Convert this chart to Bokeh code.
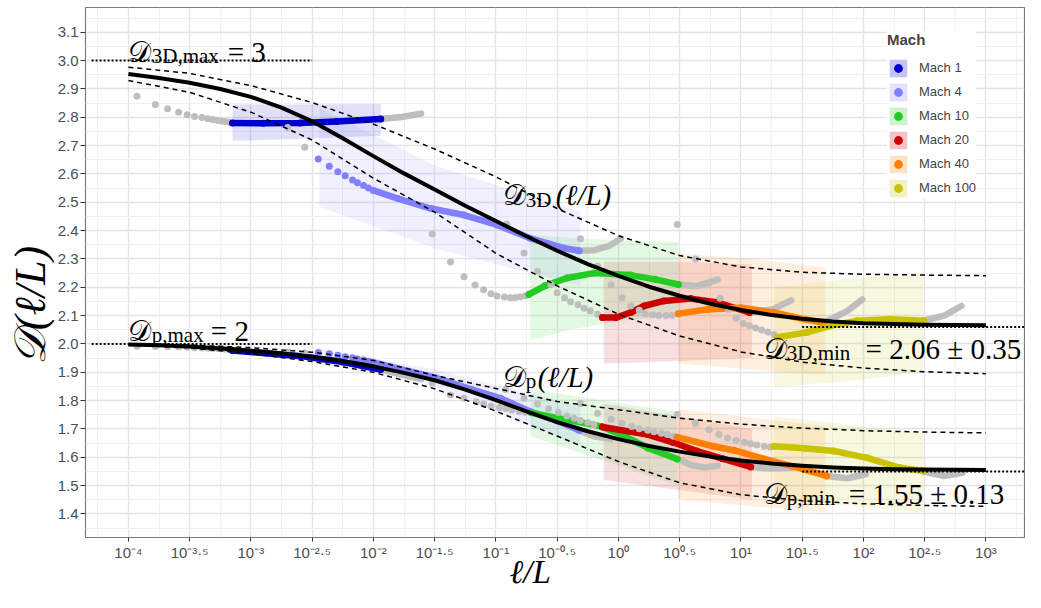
from bokeh.plotting import figure
from bokeh.models import FixedTicker, Legend, LegendItem, Range1d, PrintfTickFormatter
from bokeh.embed import file_html
from bokeh.resources import INLINE
from bokeh.core.properties import value

# ---------------- data (x = log10(l/L), y = D) ----------------
fit_x = [-4.0, -3.75, -3.5, -3.25, -3.0, -2.75, -2.5, -2.25, -2.0, -1.75, -1.5, -1.25, -1.0, -0.75,
         -0.5, -0.25, 0.0, 0.25, 0.5, 0.75, 1.0, 1.25, 1.5, 1.75, 2.0, 2.25, 2.5, 2.75, 3.0]
fit_3d = [2.953, 2.939, 2.922, 2.900, 2.872, 2.834, 2.786, 2.726, 2.663, 2.602, 2.545, 2.488, 2.434, 2.380,
          2.329, 2.282, 2.240, 2.202, 2.170, 2.142, 2.120, 2.102, 2.089, 2.079, 2.073, 2.070, 2.068, 2.067, 2.066]
fit_p = [1.998, 1.995, 1.991, 1.984, 1.976, 1.967, 1.955, 1.940, 1.921, 1.898, 1.872, 1.839, 1.802, 1.762,
         1.724, 1.692, 1.664, 1.640, 1.620, 1.603, 1.589, 1.578, 1.570, 1.564, 1.560, 1.558, 1.557, 1.556, 1.555]

band_x = [-4.0, -3.5, -3.0, -2.5, -2.0, -1.5, -1.0, -0.5, 0.0, 0.5, 1.0, 1.5, 2.0, 2.5, 3.0]
band_3d_hi = [2.977, 2.955, 2.912, 2.852, 2.776, 2.688, 2.590, 2.478, 2.382, 2.312, 2.272, 2.253, 2.246, 2.243, 2.241]
band_3d_lo = [2.930, 2.888, 2.818, 2.720, 2.585, 2.465, 2.320, 2.205, 2.105, 2.028, 1.972, 1.936, 1.915, 1.902, 1.895]
band_p_hi = [2.000, 1.996, 1.987, 1.971, 1.942, 1.889, 1.843, 1.797, 1.768, 1.738, 1.717, 1.703, 1.694, 1.689, 1.686]
band_p_lo = [1.996, 1.986, 1.966, 1.938, 1.900, 1.842, 1.763, 1.675, 1.585, 1.510, 1.468, 1.447, 1.436, 1.430, 1.427]

D3D_MAX, DP_MAX, D3D_MIN, DP_MIN = 3.0, 2.0, 2.06, 1.55

mach_names = ["Mach 1", "Mach 4", "Mach 10", "Mach 20", "Mach 40", "Mach 100"]
mach_colors = ["#0000CC", "#8080FF", "#22CC22", "#CC0000", "#FF7F00", "#C9C300"]

# Mach 1
m1_3d_dots = [(-3.93, 2.874), (-3.78, 2.845), (-3.68, 2.830), (-3.59, 2.818), (-3.52, 2.809), (-3.46, 2.803),
              (-3.40, 2.799), (-3.35, 2.795), (-3.31, 2.792), (-3.27, 2.789), (-3.24, 2.787), (-3.21, 2.785), (-3.18, 2.783)]
m1_3d_line = [(-3.15, 2.780), (-2.9, 2.779), (-2.6, 2.780), (-2.3, 2.785), (-1.94, 2.794)]
m1_3d_tail = [(-1.94, 2.794), (-1.77, 2.801), (-1.61, 2.813)]
m1_3d_rib = [(-3.15, 2.717, 2.845), (-2.5, 2.725, 2.845), (-1.94, 2.735, 2.848)]
m1_p_dots = [(-3.93, 1.992), (-3.78, 1.991), (-3.68, 1.990), (-3.59, 1.989), (-3.52, 1.988), (-3.46, 1.987),
             (-3.40, 1.986), (-3.35, 1.985), (-3.31, 1.984), (-3.27, 1.984), (-3.24, 1.983), (-3.21, 1.982), (-3.18, 1.982)]
m1_p_line = [(-3.15, 1.977), (-2.59, 1.957), (-2.25, 1.936), (-1.94, 1.910)]
m1_p_tail = [(-1.94, 1.910), (-1.78, 1.893), (-1.61, 1.876)]
m1_p_rib = [(-3.15, 1.970, 1.985), (-2.5, 1.948, 1.965), (-1.94, 1.900, 1.918)]

# Mach 4
m4_3d_dots = [(-2.70, 2.764), (-2.56, 2.694)]
m4_3d_cdots = [(-2.45, 2.653), (-2.36, 2.627), (-2.29, 2.608), (-2.23, 2.594), (-2.17, 2.579), (-2.13, 2.569),
               (-2.08, 2.559), (-2.04, 2.550)]
m4_3d_line = [(-2.0, 2.542), (-1.80, 2.513), (-1.53, 2.478), (-1.26, 2.455), (-0.99, 2.420), (-0.72, 2.373),
              (-0.44, 2.338), (-0.32, 2.329)]
m4_3d_tail = [(-0.32, 2.329), (-0.2, 2.331), (-0.08, 2.345), (0.02, 2.372)]
m4_3d_rib = [(-2.44, 2.484, 2.834), (-1.5, 2.338, 2.630), (-0.31, 2.205, 2.466)]
m4_p_dots = [(-2.70, 1.972), (-2.56, 1.968)]
m4_p_cdots = [(-2.45, 1.970), (-2.36, 1.965), (-2.29, 1.960), (-2.23, 1.955), (-2.17, 1.951), (-2.13, 1.947),
              (-2.08, 1.943), (-2.04, 1.939)]
m4_p_line = [(-2.0, 1.935), (-1.5, 1.882), (-1.2, 1.840), (-0.96, 1.808), (-0.71, 1.760), (-0.5, 1.728), (-0.32, 1.695)]
m4_p_tail = [(-0.32, 1.695), (-0.2, 1.674), (-0.06, 1.665)]
m4_p_rib = [(-2.44, 1.955, 1.985), (-1.5, 1.850, 1.910), (-0.31, 1.640, 1.780)]

# Mach 10
m10_3d_dots = [(-1.52, 2.388), (-1.37, 2.289), (-1.26, 2.237), (-1.17, 2.208), (-1.10, 2.191), (-1.04, 2.177),
               (-0.99, 2.169), (-0.93, 2.166), (-0.88, 2.163), (-0.84, 2.164), (-0.80, 2.167), (-0.76, 2.170)]
m10_3d_line = [(-0.73, 2.175), (-0.6, 2.205), (-0.42, 2.233), (-0.2, 2.250), (0.1, 2.243), (0.3, 2.228), (0.49, 2.210)]
m10_3d_tail = [(0.49, 2.210), (0.64, 2.204), (0.81, 2.227)]
m10_3d_rib = [(-0.72, 2.012, 2.385), (-0.4, 2.050, 2.375), (0.0, 2.080, 2.365), (0.49, 2.100, 2.360)]
m10_p_dots = [(-1.52, 1.862), (-1.37, 1.820), (-1.26, 1.808), (-1.16, 1.796), (-1.10, 1.788), (-1.04, 1.781),
              (-0.97, 1.776), (-0.92, 1.772), (-0.87, 1.767), (-0.81, 1.762), (-0.76, 1.759)]
m10_p_line = [(-0.71, 1.757), (-0.44, 1.734), (-0.14, 1.709), (0.05, 1.675), (0.24, 1.633), (0.48, 1.594)]
m10_p_tail = [(0.48, 1.594), (0.60, 1.572), (0.70, 1.564), (0.81, 1.570)]
m10_p_rib = [(-0.72, 1.675, 1.840), (0.48, 1.500, 1.760)]

# Mach 20
m20_3d_dots = [(-0.91, 2.423), (-0.77, 2.321), (-0.66, 2.257), (-0.55, 2.210), (-0.50, 2.181), (-0.44, 2.163),
               (-0.39, 2.149), (-0.33, 2.138), (-0.28, 2.126), (-0.23, 2.117), (-0.17, 2.105)]
m20_3d_line = [(-0.13, 2.093), (-0.02, 2.093), (0.10, 2.111), (0.21, 2.134), (0.37, 2.152), (0.59, 2.160),
               (0.81, 2.146), (1.07, 2.111)]
m20_3d_tail = [(1.07, 2.111), (1.26, 2.122), (1.41, 2.154)]
m20_3d_rib = [(-0.12, 1.930, 2.290), (0.5, 1.940, 2.290), (1.09, 1.950, 2.280)]
m20_p_dots = [(-0.92, 1.839), (-0.77, 1.808), (-0.66, 1.788), (-0.57, 1.771), (-0.49, 1.758), (-0.42, 1.746),
              (-0.36, 1.738), (-0.31, 1.730), (-0.25, 1.723), (-0.20, 1.715)]
m20_p_line = [(-0.13, 1.707), (0.24, 1.680), (0.45, 1.652), (0.64, 1.622), (0.85, 1.595), (1.08, 1.566)]
m20_p_tail = [(1.08, 1.566), (1.24, 1.560), (1.41, 1.563)]
m20_p_rib = [(-0.12, 1.520, 1.790), (1.09, 1.450, 1.700)]

# Mach 40
m40_3d_dots = [(-0.31, 2.371), (-0.17, 2.275), (-0.06, 2.208), (0.03, 2.163), (0.10, 2.134), (0.17, 2.119),
               (0.22, 2.107), (0.28, 2.103), (0.33, 2.100), (0.39, 2.100), (0.44, 2.101)]
m40_3d_line = [(0.49, 2.107), (0.73, 2.122), (1.0, 2.128), (1.27, 2.111), (1.52, 2.087), (1.68, 2.075)]
m40_3d_tail = [(1.68, 2.075), (1.76, 2.093), (1.87, 2.117), (1.99, 2.157)]
m40_3d_rib = [(0.49, 1.930, 2.320), (1.1, 1.910, 2.300), (1.69, 1.890, 2.270)]
m40_p_dots = [(-0.31, 1.790), (-0.17, 1.755), (-0.06, 1.734), (0.03, 1.720), (0.11, 1.709), (0.17, 1.701),
              (0.24, 1.695), (0.29, 1.690), (0.35, 1.685), (0.40, 1.680), (0.45, 1.674)]
m40_p_line = [(0.48, 1.671), (0.78, 1.638), (0.94, 1.625), (1.19, 1.594), (1.43, 1.567), (1.70, 1.534)]
m40_p_tail = [(1.70, 1.534), (1.87, 1.526), (2.02, 1.540)]
m40_p_rib = [(0.49, 1.450, 1.770), (1.69, 1.405, 1.710)]

# Mach 100
m100_3d_dots = [(0.48, 2.422), (0.63, 2.300), (0.74, 2.215), (0.83, 2.161), (0.90, 2.122), (0.96, 2.091),
                (1.02, 2.072), (1.07, 2.064), (1.12, 2.056), (1.17, 2.049), (1.22, 2.042), (1.27, 2.033)]
m100_3d_line = [(1.30, 2.024), (1.54, 2.041), (1.73, 2.064), (1.95, 2.082), (2.22, 2.087), (2.49, 2.082)]
m100_3d_tail = [(2.49, 2.082), (2.66, 2.100), (2.80, 2.134)]
m100_3d_rib = [(1.27, 1.846, 2.200), (1.9, 1.870, 2.230), (2.49, 1.900, 2.250)]
m100_p_dots = [(0.48, 1.752), (0.63, 1.719), (0.74, 1.697), (0.82, 1.680), (0.89, 1.668), (0.96, 1.659),
               (1.03, 1.653), (1.08, 1.648), (1.13, 1.643), (1.19, 1.639), (1.24, 1.636)]
m100_p_line = [(1.27, 1.639), (1.52, 1.632), (1.76, 1.622), (2.03, 1.598), (2.30, 1.563), (2.49, 1.552)]
m100_p_tail = [(2.49, 1.550), (2.66, 1.534), (2.81, 1.545)]
m100_p_rib = [(1.27, 1.452, 1.745), (2.49, 1.406, 1.685)]

x_ticks = [-4.0, -3.5, -3.0, -2.5, -2.0, -1.5, -1.0, -0.5, 0.0, 0.5, 1.0, 1.5, 2.0, 2.5, 3.0]
x_tick_labels = ["10⁻⁴", "10⁻³·⁵", "10⁻³", "10⁻²·⁵", "10⁻²", "10⁻¹·⁵", "10⁻¹", "10⁻⁰·⁵",
                 "10⁰", "10⁰·⁵", "10¹", "10¹·⁵", "10²", "10²·⁵", "10³"]
x_minor = [-4.25, -3.75, -3.25, -2.75, -2.25, -1.75, -1.25, -0.75, -0.25, 0.25, 0.75, 1.25, 1.75, 2.25, 2.75, 3.25]
y_ticks = [round(1.4 + 0.1 * i, 1) for i in range(18)]
y_minor = [round(1.35 + 0.1 * i, 2) for i in range(19)]

NB = "\u00a0"

# ---------------- figure ----------------
p = figure(width=1025, height=592, output_backend="svg", toolbar_location=None, title=None,
           x_range=Range1d(-4.35, 3.315), y_range=Range1d(1.3169, 3.1875),
           min_border_left=85, min_border_right=1, min_border_top=7, min_border_bottom=50)
p.background_fill_color = "white"
p.border_fill_color = "white"
p.outline_line_color = "#7A7A7A"
p.outline_line_width = 1.2

xt = FixedTicker(ticks=x_ticks, minor_ticks=x_minor)
yt = FixedTicker(ticks=y_ticks, minor_ticks=y_minor)
p.xaxis.ticker = xt
p.yaxis.ticker = yt
p.xgrid.ticker = xt
p.ygrid.ticker = yt
for g in (p.xgrid, p.ygrid):
    g.grid_line_color = "#E4E4E4"
    g.grid_line_width = 1.4
    g.minor_grid_line_color = "#EEEEEE"
    g.minor_grid_line_width = 0.9
p.xaxis.major_label_overrides = {t: s for t, s in zip(x_ticks, x_tick_labels)}
p.yaxis.formatter = PrintfTickFormatter(format="%.1f")
for ax in (p.xaxis, p.yaxis):
    ax.axis_line_color = None
    ax.minor_tick_line_color = None
    ax.major_tick_line_color = "#333333"
    ax.major_tick_in = 0
    ax.major_label_text_font = "Liberation Sans"
    ax.major_label_text_font_size = "15px"
    ax.major_label_text_color = "#4D4D4D"
    ax.axis_label_text_font = "Liberation Serif"
    ax.axis_label_text_font_style = "italic"
    ax.axis_label_text_color = "black"
p.xaxis.major_tick_out = 4
p.yaxis.major_tick_out = 5
p.xaxis.major_label_standoff = 2
p.yaxis.major_label_standoff = 2
p.xaxis.axis_label = "ℓ/L" + NB * 6
p.xaxis.axis_label_text_font_size = "33px"
p.xaxis.axis_label_standoff = -10
p.yaxis.axis_label = "𝒟(ℓ/L)" + NB * 6
p.yaxis.axis_label_text_font_size = "44px"
p.yaxis.axis_label_standoff = 0

GRAY = "#BEBEBE"
RIB_ALPHA = 0.12


def xs(pts):
    return [q[0] for q in pts]


def ys(pts, k=1):
    return [q[k] for q in pts]


machs = [
    (m1_3d_dots, [], m1_3d_line, m1_3d_tail, m1_3d_rib, m1_p_dots, [], m1_p_line, m1_p_tail, m1_p_rib),
    (m4_3d_dots, m4_3d_cdots, m4_3d_line, m4_3d_tail, m4_3d_rib, m4_p_dots, m4_p_cdots, m4_p_line, m4_p_tail, m4_p_rib),
    (m10_3d_dots, [], m10_3d_line, m10_3d_tail, m10_3d_rib, m10_p_dots, [], m10_p_line, m10_p_tail, m10_p_rib),
    (m20_3d_dots, [], m20_3d_line, m20_3d_tail, m20_3d_rib, m20_p_dots, [], m20_p_line, m20_p_tail, m20_p_rib),
    (m40_3d_dots, [], m40_3d_line, m40_3d_tail, m40_3d_rib, m40_p_dots, [], m40_p_line, m40_p_tail, m40_p_rib),
    (m100_3d_dots, [], m100_3d_line, m100_3d_tail, m100_3d_rib, m100_p_dots, [], m100_p_line, m100_p_tail, m100_p_rib),
]

# ribbons first
rib_renderers = []
for (d3, c3, l3, t3, r3, dp, cp, lp, tp, rp), col in zip(machs, mach_colors):
    ra = p.varea(x=xs(r3), y1=ys(r3, 1), y2=ys(r3, 2), fill_color=col, fill_alpha=RIB_ALPHA)
    rb = p.varea(x=xs(rp), y1=ys(rp, 1), y2=ys(rp, 2), fill_color=col, fill_alpha=RIB_ALPHA)
    rib_renderers.append((ra, rb))

dot_renderers = []
for (d3, c3, l3, t3, r3, dp, cp, lp, tp, rp), col in zip(machs, mach_colors):
    for tail in (t3, tp):
        p.line(xs(tail), ys(tail), line_color=GRAY, line_width=6.5, line_cap="round", line_join="round")
    for dots in (d3, dp):
        p.scatter(xs(dots), ys(dots), size=7, fill_color=GRAY, line_color=None)
    cpts = c3 + cp + l3 + lp
    sr = p.scatter(xs(cpts), ys(cpts), size=7, fill_color=col, line_color=None)
    dot_renderers.append(sr)
    for ln in (l3, lp):
        p.line(xs(ln), ys(ln), line_color=col, line_width=6.5, line_cap="round", line_join="round")

# fits and bounds
p.line(fit_x, fit_3d, line_color="black", line_width=4, line_join="round")
p.line(fit_x, fit_p, line_color="black", line_width=4, line_join="round")
for band in (band_3d_hi, band_3d_lo, band_p_hi, band_p_lo):
    p.line(band_x, band, line_color="black", line_width=1.5, line_dash="5 4")

# asymptote markers
for yv in (D3D_MAX, DP_MAX):
    p.line([-4.3, -2.5], [yv, yv], line_color="black", line_width=2, line_dash="2 2")
for yv in (D3D_MIN, DP_MIN):
    p.line([1.5, 3.35], [yv, yv], line_color="black", line_width=2, line_dash="2 2")

# math annotations
SERIF = "Liberation Serif"
big = [(-4.0, 3.029, "𝒟"), (-3.189, 3.029, "= 3"),
       (-4.0, 2.044, "𝒟"), (-3.327, 2.044, "= 2"),
       (-0.944, 2.525, "𝒟"), (-0.944, 1.884, "𝒟"),
       (1.189, 1.983, "𝒟"), (2.018, 1.983, "= 2.06 ± 0.35"),
       (1.189, 1.470, "𝒟"), (1.880, 1.470, "= 1.55 ± 0.13")]
ital = [(-0.512, 2.525, "(ℓ/L)"), (-0.659, 1.884, "(ℓ/L)")]
small = [(-3.809, 3.016, "3D,max"), (-3.809, 2.032, "p,max"),
         (-0.756, 2.509, "3D"), (-0.756, 1.870, "p"),
         (1.374, 1.968, "3D,min"), (1.374, 1.457, "p,min")]
p.text(x=xs(big), y=ys(big), text=[b[2] for b in big], text_font=value(SERIF), text_font_size=value("29px"),
       text_baseline="alphabetic", text_align="left", text_color="black")
p.text(x=xs(ital), y=ys(ital), text=[b[2] for b in ital], text_font=value(SERIF), text_font_size=value("29px"),
       text_font_style="italic", text_baseline="alphabetic", text_align="left", text_color="black")
p.text(x=xs(small), y=ys(small), text=[b[2] for b in small], text_font=value(SERIF), text_font_size=value("21px"),
       text_baseline="alphabetic", text_align="left", text_color="black")

# legend
items = []
for name, (ra, rb), sr in zip(mach_names, rib_renderers, dot_renderers):
    items.append(LegendItem(label=name, renderers=[ra, rb, sr]))
legend = Legend(items=items, location=(802, 338.5))
legend.title = "Mach"
legend.title_text_font = "Liberation Sans"
legend.title_text_font_style = "bold"
legend.title_text_font_size = "15px"
legend.title_standoff = 9
legend.label_text_font = "Liberation Sans"
legend.label_text_font_size = "13px"
legend.label_standoff = 10
legend.glyph_width = 22
legend.glyph_height = 22
legend.spacing = 2
legend.padding = 10
legend.margin = 0
legend.background_fill_color = "white"
legend.background_fill_alpha = 1.0
legend.border_line_color = None
p.add_layout(legend)

open("out.html", "w").write(file_html(p, INLINE))
